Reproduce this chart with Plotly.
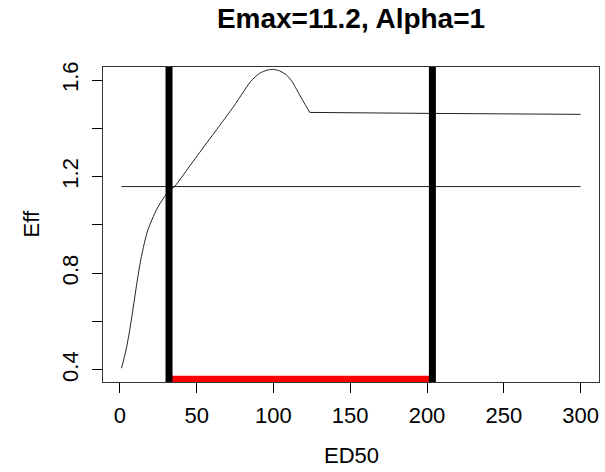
import plotly.graph_objects as go

# Efficiency curve vs ED50
ed50 = [1, 2, 4, 6, 8, 11, 14, 18, 24, 29, 33, 36, 45, 56, 65, 74, 80, 85, 91, 96,
        100, 104, 108.5, 112, 115, 118, 120.5, 123.7, 150, 200, 250, 300]
eff = [0.407, 0.43, 0.483, 0.55, 0.63, 0.757, 0.869, 0.975, 1.065, 1.117, 1.145, 1.162,
       1.24, 1.335, 1.412, 1.49, 1.547, 1.593, 1.628, 1.641, 1.644, 1.638, 1.621, 1.595,
       1.562, 1.528, 1.5, 1.466, 1.464, 1.462, 1.46, 1.458]
corner_x = 123.7  # kink where the curve becomes flat

# Reference horizontal level
href_x = [1, 300]
href_y = 1.159

# Cut points (thick vertical lines) and the red interval between them
cut_points = [32, 203.5]
interval_y = 0.361

x_ticks = [0, 50, 100, 150, 200, 250, 300]
y_ticks = [0.4, 0.6, 0.8, 1.0, 1.2, 1.4, 1.6]
y_ticktext = ["0.4", "", "0.8", "", "1.2", "", "1.6"]

FONT = "Liberation Sans, Arial, sans-serif"

k = ed50.index(corner_x)

fig = go.Figure()
fig.add_trace(go.Scatter(x=cut_points, y=[interval_y, interval_y], mode="lines",
                         line=dict(color="#ff0000", width=7), hoverinfo="skip"))
fig.add_trace(go.Scatter(x=ed50[:k + 1], y=eff[:k + 1], mode="lines",
                         line=dict(color="#222222", width=1, shape="spline", smoothing=0.7),
                         hoverinfo="skip"))
fig.add_trace(go.Scatter(x=ed50[k:], y=eff[k:], mode="lines",
                         line=dict(color="#222222", width=1), hoverinfo="skip"))
fig.add_trace(go.Scatter(x=href_x, y=[href_y, href_y], mode="lines",
                         line=dict(color="#222222", width=1), hoverinfo="skip"))

for cp in cut_points:
    fig.add_shape(type="line", xref="x", yref="paper", x0=cp, x1=cp, y0=0, y1=1,
                  line=dict(color="black", width=7))

fig.update_layout(
    width=605, height=472,
    margin=dict(l=103, r=6, t=67, b=90),
    paper_bgcolor="white", plot_bgcolor="white",
    showlegend=False,
    font=dict(family=FONT, color="black", size=22),
    title=dict(text="<b>Emax=11.2, Alpha=1</b>", x=351/605, xanchor="center",
               y=1 - 18/472, yanchor="middle", yref="container",
               font=dict(size=28, family=FONT, color="black")),
    xaxis=dict(range=[-11, 312], tickvals=x_ticks, ticks="outside", ticklen=10,
               tickcolor="black", showline=True, linecolor="#333333", linewidth=1,
               mirror=True, showgrid=False, zeroline=False,
               tickfont=dict(size=22, family=FONT, color="black"),
               ticklabelstandoff=4),
    yaxis=dict(range=[0.35, 1.654], tickvals=y_ticks, ticktext=y_ticktext,
               ticks="outside", ticklen=10, tickcolor="black", showline=True,
               linecolor="#333333", linewidth=1, mirror=True, showgrid=False,
               zeroline=False, tickangle=-90,
               tickfont=dict(size=22, family=FONT, color="black"),
               ticklabelstandoff=5),
    annotations=[
        dict(text="ED50", xref="paper", yref="paper", x=0.5, y=0, yshift=-73,
             showarrow=False, xanchor="center", yanchor="middle",
             font=dict(size=22, family=FONT, color="black")),
        dict(text="Eff", xref="paper", yref="paper", x=0, y=0.5, xshift=-72,
             showarrow=False, xanchor="center", yanchor="middle", textangle=-90,
             font=dict(size=22, family=FONT, color="black")),
    ],
)

fig.write_html("out.html")
